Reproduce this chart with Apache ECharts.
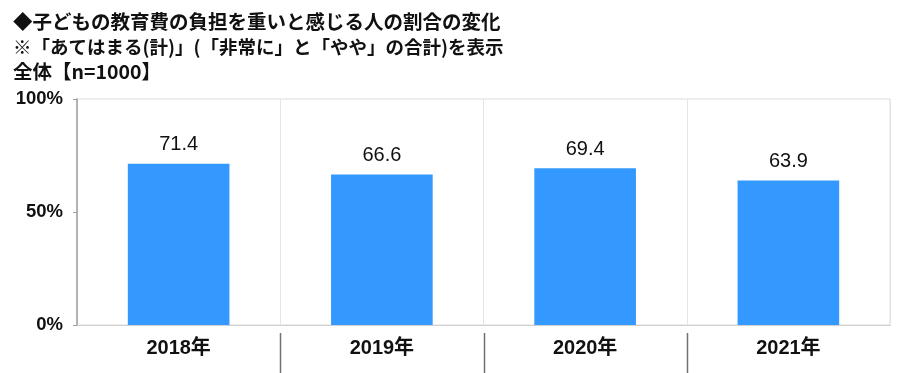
<!DOCTYPE html>
<html>
<head>
<meta charset="utf-8">
<script src="https://cdn.jsdelivr.net/npm/echarts@6/dist/echarts.min.js"></script>
<style>html,body{margin:0;padding:0;background:#fff;}#c{width:901px;height:373px;}</style>
</head>
<body>
<div id="c"></div>
<script>
var titleLines = [
  '◆子どもの教育費の負担を重いと感じる人の割合の変化',
  '※「あてはまる(計)」(「非常に」と「やや」の合計)を表示',
  '全体【n=1000】'
];
var categories = ['2018年', '2019年', '2020年', '2021年'];
var values = [71.4, 66.6, 69.4, 63.9];
var yTicks = [0, 50, 100];

var chart = echarts.init(document.getElementById('c'));
chart.setOption({
  animation: false,
  backgroundColor: '#fff',
  title: {
    text: '{a|' + titleLines[0] + '}\n{b|' + titleLines[1] + '}\n{a|' + titleLines[2] + '}',
    left: 8, top: 4,
    textStyle: {
      rich: {
        a: { fontFamily: '"Noto Sans CJK JP", sans-serif', fontSize: 19.5, fontWeight: 'bold', color: '#111', lineHeight: 25 },
        b: { fontFamily: '"Noto Sans CJK JP", sans-serif', fontSize: 18.5, fontWeight: 'bold', color: '#111', lineHeight: 25 }
      }
    }
  },
  grid: { left: 77, right: 11, top: 99, bottom: 48, show: true, borderColor: '#dcdcdc', borderWidth: 1 },
  xAxis: {
    type: 'category',
    data: categories,
    axisLine: { show: true, lineStyle: { color: '#d0d0d0', width: 1 } },
    axisTick: { show: false },
    splitLine: { show: true, lineStyle: { color: '#e4e4e4', width: 1 } },
    axisLabel: {
      margin: 13,
      fontFamily: '"Liberation Sans", Arial, "Noto Sans CJK JP", sans-serif',
      fontSize: 20, fontWeight: 'bold', color: '#111'
    }
  },
  yAxis: {
    type: 'value',
    min: yTicks[0], max: yTicks[yTicks.length - 1], interval: 50,
    axisLine: { show: true, lineStyle: { color: '#a0a0a0', width: 1.5 } },
    axisTick: { show: true, length: 4, lineStyle: { color: '#a0a0a0' } },
    splitLine: { show: false },
    axisLabel: {
      margin: 14,
      formatter: '{value}%',
      fontFamily: '"Liberation Sans", Arial, sans-serif',
      fontSize: 18.5, fontWeight: 'bold', color: '#111'
    }
  },
  series: [{
    type: 'bar',
    data: values,
    barWidth: '50%',
    itemStyle: { color: '#3399ff' },
    label: {
      show: true, position: 'top', distance: 9,
      formatter: function (p) { return p.value.toFixed(1); },
      fontFamily: '"Liberation Sans", Arial, sans-serif',
      fontSize: 20, color: '#111'
    }
  }]
});

// divider lines below the axis between category labels
var els = [];
for (var i = 0; i < categories.length - 1; i++) {
  var a = chart.convertToPixel({ gridIndex: 0 }, [i, 0]);
  var b = chart.convertToPixel({ gridIndex: 0 }, [i + 1, 0]);
  var x = Math.round((a[0] + b[0]) / 2) + 0.5;
  els.push({
    type: 'line',
    shape: { x1: x, y1: a[1] + 8, x2: x, y2: 373 },
    style: { stroke: '#707070', lineWidth: 1.5 }
  });
}
chart.setOption({ graphic: els });
</script>
</body>
</html>
